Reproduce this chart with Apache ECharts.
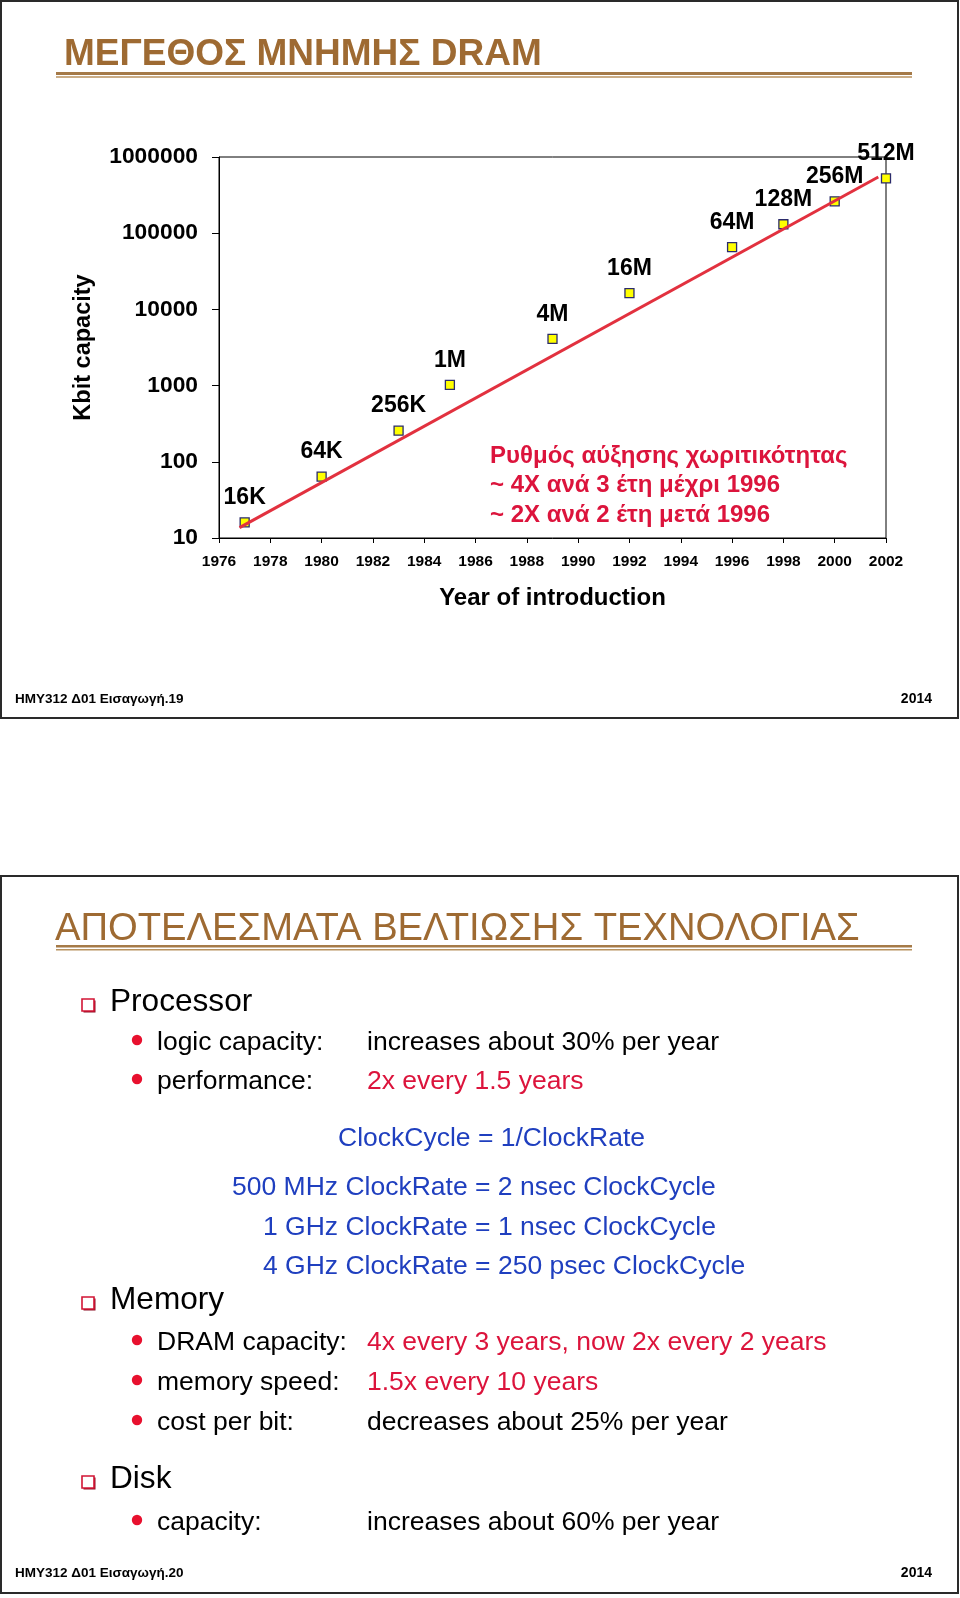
<!DOCTYPE html>
<html>
<head>
<meta charset="utf-8">
<script src="https://cdn.jsdelivr.net/npm/echarts@6/dist/echarts.min.js"></script>
<style>
html,body{margin:0;padding:0;background:#fff;}
#chart{width:960px;height:1598px;}
</style>
</head>
<body>
<div id="chart"></div>
<script>
// ---- Data ----
const chipNames = ['16K', '64K', '256K', '1M', '4M', '16M', '64M', '128M', '256M', '512M'];
const introYears = [1977, 1980, 1983, 1985, 1989, 1992, 1996, 1998, 2000, 2002];
const kbitCapacity = [16, 64, 256, 1024, 4096, 16384, 65536, 131072, 262144, 524288];
const trendYears = [1976.8, 2001.7];
const trendKbits = [13.7, 546000];
const xTickMin = 1976, xTickMax = 2002, xTickStep = 2;
const yTickMin = 10, yTickMax = 1000000;

const slide1Title = 'ΜΕΓΕΘΟΣ ΜΝΗΜΗΣ DRAM';
const rateNote = ['Ρυθμός αύξησης χωριτικότητας', '~ 4X ανά 3 έτη μέχρι 1996', '~ 2X ανά 2 έτη μετά 1996'];
const footer1 = 'ΗΜΥ312 Δ01 Εισαγωγή.19';
const footer2 = 'ΗΜΥ312 Δ01 Εισαγωγή.20';
const footerYear = '2014';
const slide2Title = 'ΑΠΟΤΕΛΕΣΜΑΤΑ ΒΕΛΤΙΩΣΗΣ ΤΕΧΝΟΛΟΓΙΑΣ';
const sections = ['Processor', 'Memory', 'Disk'];
const processorItems = [['logic capacity:', 'increases about 30% per year', 'k'], ['performance:', '2x every 1.5 years', 'r']];
const clockLines = ['ClockCycle = 1/ClockRate', '500 MHz ClockRate = 2 nsec ClockCycle', '1 GHz ClockRate = 1 nsec ClockCycle', '4 GHz ClockRate = 250 psec ClockCycle'];
const memoryItems = [['DRAM capacity:', '4x every 3 years, now 2x every 2 years', 'r'], ['memory speed:', '1.5x every 10 years', 'r'], ['cost per bit:', 'decreases about 25% per year', 'k']];
const diskItems = [['capacity:', 'increases about 60% per year', 'k']];

// ---- Styling ----
const FF = '"Liberation Sans", Arial, Helvetica, sans-serif';
const BROWN = '#9e6a32';
const RED = '#dc143c';
const BLUE = '#1f3fbf';
const BODY = 26.5, HEAD = 31.6;

const chart = echarts.init(document.getElementById('chart'), null, {renderer: 'canvas'});

function txt(x, y, text, size, color, weight, align) {
  return {
    type: 'text', x: x, y: y, z: 10,
    style: {
      text: text, fill: color, font: (weight || 'normal') + ' ' + size + 'px ' + FF,
      align: align || 'left', textAlign: align || 'left',
      verticalAlign: 'middle', textVerticalAlign: 'middle'
    }
  };
}
function hline(x1, x2, y, w, color) {
  return {type: 'line', z: 5, shape: {x1: x1, y1: y, x2: x2, y2: y}, style: {stroke: color, lineWidth: w}};
}
function checkbox(x, y) {
  return [
    {type: 'rect', z: 9, shape: {x: x + 1.5, y: y + 1.5, width: 12, height: 12}, style: {fill: '#8a0c22'}},
    {type: 'rect', z: 10, shape: {x: x, y: y, width: 12, height: 12}, style: {fill: '#fff', stroke: '#d21535', lineWidth: 1.6}}
  ];
}
function dot(cx, cy) {
  return {type: 'circle', z: 10, shape: {cx: cx, cy: cy, r: 5.2}, style: {fill: '#e8102e'}};
}

const g = [];
// slide frames
g.push({type: 'rect', z: 1, shape: {x: 1, y: 1, width: 957, height: 717}, style: {fill: 'none', stroke: '#2a2a2a', lineWidth: 2}});
g.push({type: 'rect', z: 1, shape: {x: 1, y: 876, width: 957, height: 717}, style: {fill: 'none', stroke: '#2a2a2a', lineWidth: 2}});
// slide 1 title
g.push(txt(64, 55, slide1Title, 37, BROWN, 'bold'));
g.push(hline(56, 912, 73.5, 3, '#a57a48'));
g.push(hline(56, 912, 77, 1.5, '#b8925f'));
// annotation
rateNote.forEach(function (t, i) { g.push(txt(490, 456 + i * 29.5, t, 24, RED, 'bold')); });
// footers
g.push(txt(15, 699, footer1, 13.5, '#000', 'bold'));
g.push(txt(932, 699, footerYear, 14, '#000', 'bold', 'right'));
g.push(txt(15, 1573, footer2, 13.5, '#000', 'bold'));
g.push(txt(932, 1573, footerYear, 14, '#000', 'bold', 'right'));
// slide 2 title
g.push(txt(55, 929, slide2Title, 38.2, BROWN, 'normal'));
g.push(hline(56, 912, 946.2, 2.5, '#a57a48'));
g.push(hline(56, 912, 949.8, 1.5, '#b8925f'));
// sections
const secY = [1002, 1300, 1479];
sections.forEach(function (s, i) {
  checkbox(82, secY[i] - 3).forEach(function (e) { g.push(e); });
  g.push(txt(110, secY[i], s, HEAD, '#000'));
});
function items(list, ys) {
  list.forEach(function (it, i) {
    g.push(dot(137, ys[i] - 3));
    g.push(txt(157, ys[i], it[0], BODY, '#000'));
    g.push(txt(367, ys[i], it[1], BODY, it[2] === 'r' ? RED : '#000'));
  });
}
items(processorItems, [1043, 1082]);
items(memoryItems, [1343, 1383, 1423]);
items(diskItems, [1523]);
const clockX = [338, 232, 263, 263];
const clockY = [1139, 1188, 1228, 1267];
clockLines.forEach(function (t, i) { g.push(txt(clockX[i], clockY[i], t, BODY, BLUE)); });

const option = {
  backgroundColor: '#fff',
  animation: false,
  grid: {left: 219, top: 157, width: 667, height: 381, show: true, borderColor: '#000', borderWidth: 1, backgroundColor: 'transparent'},
  xAxis: {
    type: 'value', min: xTickMin, max: xTickMax, interval: xTickStep,
    name: 'Year of introduction', nameLocation: 'middle', nameGap: 48,
    nameTextStyle: {fontFamily: FF, fontSize: 24, fontWeight: 'bold', color: '#000'},
    axisLine: {show: true, lineStyle: {color: '#000', width: 1}},
    axisTick: {show: true, length: 5, lineStyle: {color: '#000'}},
    axisLabel: {fontFamily: FF, fontSize: 15.5, fontWeight: 'bold', color: '#000', margin: 16, formatter: function (v) { return String(v); }},
    splitLine: {show: false}
  },
  yAxis: {
    type: 'log', logBase: 10, min: yTickMin, max: yTickMax,
    name: 'Kbit capacity', nameLocation: 'middle', nameGap: 123,
    nameTextStyle: {fontFamily: FF, fontSize: 23.5, fontWeight: 'bold', color: '#000'},
    axisLine: {show: true, lineStyle: {color: '#000', width: 1}},
    axisTick: {show: true, length: 7, lineStyle: {color: '#000'}},
    axisLabel: {fontFamily: FF, fontSize: 22.8, fontWeight: 'bold', color: '#000', margin: 21, formatter: function (v) { return String(Math.round(v)); }},
    splitLine: {show: false}
  },
  series: [
    {
      type: 'scatter', z: 3,
      data: introYears.map(function (y, i) { return {value: [y, kbitCapacity[i]], name: chipNames[i]}; }),
      symbol: 'rect', symbolSize: 9,
      itemStyle: {color: '#ffff00', borderColor: '#2b2b6b', borderWidth: 1.3, opacity: 1},
      label: {show: true, position: 'top', distance: 8, formatter: '{b}', fontFamily: FF, fontSize: 23, fontWeight: 'bold', color: '#000'}
    },
    {
      type: 'line', z: 4,
      data: trendYears.map(function (y, i) { return [y, trendKbits[i]]; }),
      showSymbol: false, symbol: 'none',
      lineStyle: {color: '#e2313f', width: 3},
      silent: true
    }
  ],
  graphic: {elements: g}
};
chart.setOption(option);
</script>
</body>
</html>
